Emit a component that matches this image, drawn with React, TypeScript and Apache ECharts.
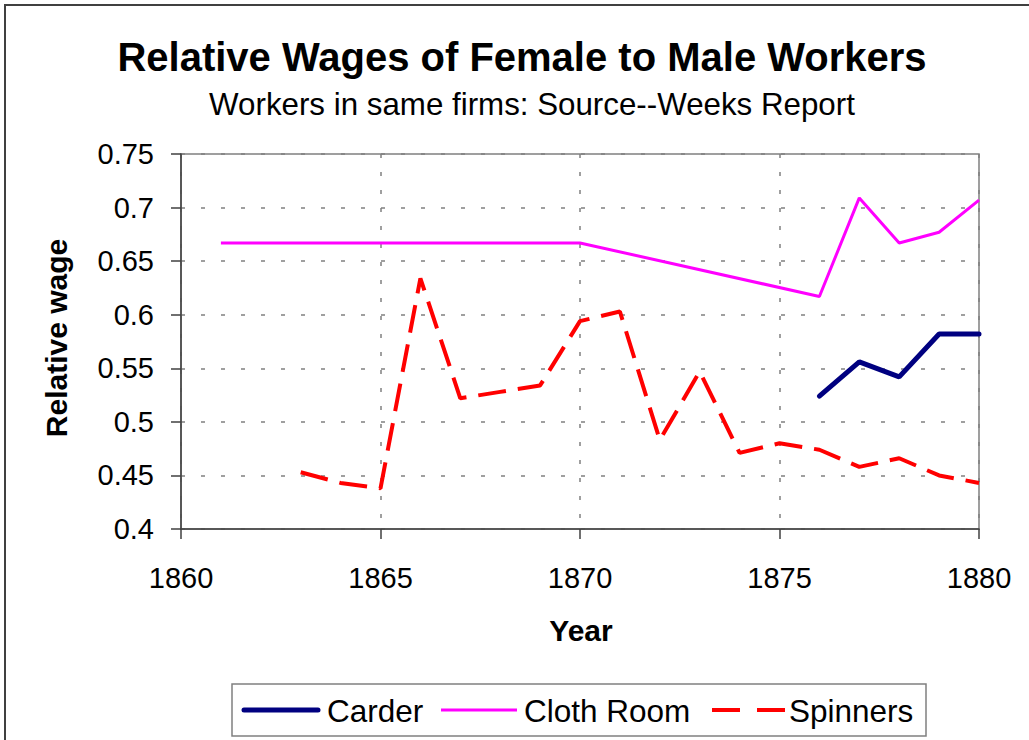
import React, { useEffect, useRef } from "react";
import * as echarts from "echarts";

const titleText = "Relative Wages of Female to Male Workers";
const subtitleText = "Workers in same firms: Source--Weeks Report";
const xAxisName = "Year";
const yAxisName = "Relative wage";
const seriesNames = ["Carder", "Cloth Room", "Spinners"];
const seriesColors = ["#000080", "#FF00FF", "#FF0000"];

const carderYears = [1876, 1877, 1878, 1879, 1880];
const carderValues = [0.524, 0.556, 0.542, 0.582, 0.582];

const clothYears = [1861, 1870, 1876, 1877, 1878, 1879, 1880];
const clothValues = [0.667, 0.667, 0.617, 0.709, 0.667, 0.677, 0.707];

const spinnerYears = [
  1863, 1864, 1865, 1866, 1867, 1868, 1869, 1870, 1871, 1872, 1873, 1874, 1875,
  1876, 1877, 1878, 1879, 1880,
];
const spinnerValues = [
  0.453, 0.443, 0.438, 0.634, 0.522, 0.528, 0.534, 0.594, 0.603, 0.483, 0.547,
  0.471, 0.48, 0.474, 0.458, 0.466, 0.45, 0.443,
];

const FONT = "'Liberation Sans', Arial, sans-serif";

function pairs(xs: number[], ys: number[]) {
  return xs.map((x, i) => [x, ys[i]]);
}

function legendText(text: string, x: number) {
  return {
    type: "text",
    x,
    y: 711,
    style: {
      text,
      font: `31.5px ${FONT}`,
      fill: "#000",
      textAlign: "left",
      textVerticalAlign: "middle",
    },
  };
}

export default function App() {
  const ref = useRef<HTMLDivElement>(null);
  useEffect(() => {
    if (!ref.current) return;
    const chart = echarts.init(ref.current, undefined, { renderer: "svg" });
    chart.setOption({
      animation: false,
      backgroundColor: "#ffffff",
      textStyle: { fontFamily: FONT },
      graphic: [
        {
          type: "rect",
          shape: { x: 5, y: 5, width: 1200, height: 900 },
          style: { fill: "none", stroke: "#404040", lineWidth: 2 },
          silent: true,
        },
        {
          type: "text",
          x: 522,
          y: 57,
          style: {
            text: titleText,
            font: `bold 40px ${FONT}`,
            fill: "#000",
            textAlign: "center",
            textVerticalAlign: "middle",
          },
        },
        {
          type: "text",
          x: 532,
          y: 104,
          style: {
            text: subtitleText,
            font: `31.3px ${FONT}`,
            fill: "#000",
            textAlign: "center",
            textVerticalAlign: "middle",
          },
        },
        {
          type: "text",
          x: 581,
          y: 630,
          style: {
            text: xAxisName,
            font: `bold 30px ${FONT}`,
            fill: "#000",
            textAlign: "center",
            textVerticalAlign: "middle",
          },
        },
        {
          type: "text",
          x: 56,
          y: 338,
          rotation: Math.PI / 2,
          style: {
            text: yAxisName,
            font: `bold 30px ${FONT}`,
            fill: "#000",
            textAlign: "center",
            textVerticalAlign: "middle",
          },
        },
        // legend
        {
          type: "rect",
          shape: { x: 232, y: 684, width: 694, height: 52 },
          style: { fill: "#fff", stroke: "#808080", lineWidth: 1.5 },
        },
        {
          type: "line",
          shape: { x1: 244, y1: 710, x2: 318, y2: 710 },
          style: { stroke: seriesColors[0], lineWidth: 5, lineCap: "round" },
        },
        legendText(seriesNames[0], 327),
        {
          type: "line",
          shape: { x1: 441, y1: 710, x2: 517, y2: 710 },
          style: { stroke: seriesColors[1], lineWidth: 3 },
        },
        legendText(seriesNames[1], 524),
        {
          type: "line",
          shape: { x1: 712, y1: 710, x2: 740, y2: 710 },
          style: { stroke: seriesColors[2], lineWidth: 4 },
        },
        {
          type: "line",
          shape: { x1: 757, y1: 710, x2: 785, y2: 710 },
          style: { stroke: seriesColors[2], lineWidth: 4 },
        },
        legendText(seriesNames[2], 789),
      ],
      grid: {
        left: 181,
        right: 50,
        top: 154,
        bottom: 211,
        show: true,
        borderColor: "#808080",
        borderWidth: 1.5,
        backgroundColor: "transparent",
      },
      xAxis: {
        type: "value",
        min: 1860,
        max: 1880,
        interval: 5,
        axisLine: { show: true, lineStyle: { color: "#404040", width: 1.5 } },
        axisTick: { show: true, length: 10, inside: false, lineStyle: { color: "#404040", width: 1.5 } },
        axisLabel: {
          fontSize: 29,
          color: "#000",
          margin: 34,
          fontFamily: FONT,
          formatter: (v: number) => String(v),
        },
        splitLine: {
          show: true,
          lineStyle: { color: "#808080", width: 1.5, type: [4, 14] },
        },
      },
      yAxis: {
        type: "value",
        min: 0.4,
        max: 0.75,
        interval: 0.05,
        axisLine: { show: true, lineStyle: { color: "#404040", width: 1.5 } },
        axisTick: { show: true, length: 10, inside: false, lineStyle: { color: "#404040", width: 1.5 } },
        axisLabel: {
          fontSize: 29,
          color: "#000",
          margin: 27,
          fontFamily: FONT,
          formatter: (v: number) => String(parseFloat(v.toFixed(2))),
        },
        splitLine: {
          show: true,
          lineStyle: { color: "#808080", width: 1.5, type: [4, 16] },
        },
      },
      series: [
        {
          name: seriesNames[0],
          type: "line",
          data: pairs(carderYears, carderValues),
          symbol: "none",
          lineStyle: { color: seriesColors[0], width: 5, cap: "round" },
          itemStyle: { color: seriesColors[0] },
        },
        {
          name: seriesNames[1],
          type: "line",
          data: pairs(clothYears, clothValues),
          symbol: "none",
          lineStyle: { color: seriesColors[1], width: 3 },
          itemStyle: { color: seriesColors[1] },
        },
        {
          name: seriesNames[2],
          type: "line",
          data: pairs(spinnerYears, spinnerValues),
          symbol: "none",
          lineStyle: { color: seriesColors[2], width: 4, type: [28, 12] },
          itemStyle: { color: seriesColors[2] },
        },
      ],
    });
    return () => chart.dispose();
  }, []);
  return (
    <div
      ref={ref}
      style={{ position: "fixed", left: 0, top: 0, width: 1029, height: 740, background: "#fff" }}
    />
  );
}
